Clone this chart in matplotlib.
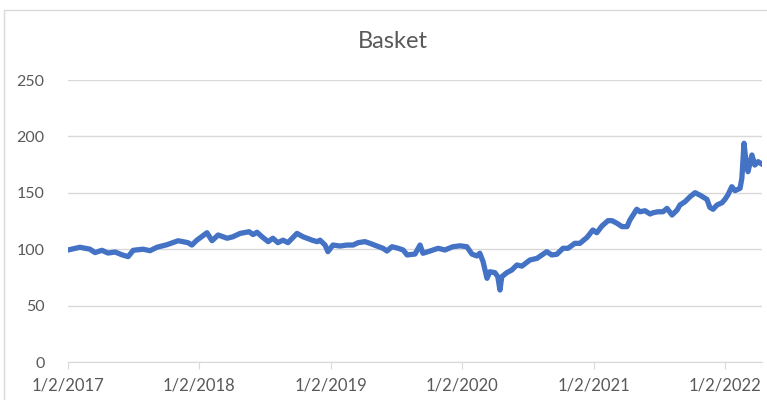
import matplotlib
matplotlib.use("Agg")
import matplotlib.pyplot as plt
import matplotlib.dates as mdates
import pandas as pd
from matplotlib.patches import Rectangle

# valores
fechas = [
    "2017-01-02", "2017-02-04", "2017-03-04", "2017-03-18", "2017-04-06", "2017-04-23",
    "2017-05-13", "2017-06-01", "2017-06-18", "2017-07-02", "2017-07-29", "2017-08-18",
    "2017-09-06", "2017-10-04", "2017-11-04", "2017-12-01", "2017-12-12", "2017-12-26",
    "2018-01-23", "2018-02-06", "2018-02-23", "2018-03-20", "2018-04-05", "2018-04-25",
    "2018-05-20", "2018-05-31", "2018-06-11", "2018-06-25", "2018-07-12", "2018-07-25",
    "2018-08-08", "2018-08-22", "2018-09-05", "2018-09-30", "2018-10-17", "2018-11-11",
    "2018-11-25", "2018-12-03", "2018-12-17", "2018-12-25", "2019-01-08", "2019-01-28",
    "2019-02-16", "2019-03-05", "2019-03-19", "2019-04-07", "2019-04-26", "2019-05-10",
    "2019-05-27", "2019-06-07", "2019-06-21", "2019-07-08", "2019-07-22", "2019-08-02",
    "2019-08-24", "2019-09-07", "2019-09-15", "2019-10-05", "2019-10-27", "2019-11-15",
    "2019-12-07", "2019-12-27", "2020-01-15", "2020-01-29", "2020-02-12", "2020-02-20",
    "2020-02-29", "2020-03-11", "2020-03-19", "2020-04-02", "2020-04-10", "2020-04-16",
    "2020-04-21", "2020-05-05", "2020-05-19", "2020-06-02", "2020-06-16", "2020-07-08",
    "2020-07-28", "2020-08-24", "2020-09-07", "2020-09-21", "2020-10-08", "2020-10-22",
    "2020-11-10", "2020-11-24", "2020-12-14", "2020-12-30", "2021-01-10", "2021-01-24",
    "2021-02-10", "2021-02-21", "2021-03-07", "2021-03-21", "2021-04-04", "2021-04-12",
    "2021-05-01", "2021-05-10", "2021-05-24", "2021-06-07", "2021-06-15", "2021-06-29",
    "2021-07-13", "2021-07-24", "2021-08-07", "2021-08-21", "2021-08-29", "2021-09-12",
    "2021-09-26", "2021-10-10", "2021-10-23", "2021-11-12", "2021-11-20", "2021-11-29",
    "2021-12-10", "2021-12-24", "2022-01-01", "2022-01-09", "2022-01-20", "2022-01-29",
    "2022-02-12", "2022-02-17", "2022-02-23", "2022-02-28", "2022-03-06", "2022-03-17",
    "2022-03-25", "2022-04-03", "2022-04-11",
]
valores = [
    99.3, 101.7, 100, 97, 99, 96.6,
    97.5, 95, 93.4, 99, 100, 98.7,
    101.7, 104, 107.5, 105.8, 103.7, 108,
    114.6, 107.5, 112.6, 109.7, 111, 114,
    115.5, 113, 115, 111, 106.7, 109.7,
    105.8, 108, 105.8, 114, 111, 108,
    106.7, 108, 103.7, 97.8, 103.7, 102.8,
    103.7, 103.7, 105.8, 106.7, 104.6, 102.8,
    100.8, 98.4, 102.2, 100.8, 99.3, 94.9,
    95.7, 103.7, 96.4, 98.4, 100.8, 99.3,
    102.2, 103, 102.2, 95.7, 94, 96.4,
    89, 74.2, 80, 79.2, 75.6, 63.8,
    75.6, 79.2, 81.6, 86, 85, 90.4,
    91.9, 97.8, 94.9, 95.5, 100.8, 100.8,
    105.2, 105.2, 110.5, 117, 114.6, 120.5,
    125.3, 125.3, 123, 120, 120, 125.9,
    135.4, 133.2, 134.1, 131.2, 132.3, 133.2,
    133.2, 136.2, 130.3, 134.7, 139.2, 142.1,
    146.5, 150.1, 148, 144.2, 137.1, 135.4,
    139.2, 141.2, 144.2, 148, 155.4, 151.9,
    154, 162.9, 193.9, 179, 168.7, 183.5,
    174.6, 177.6, 176,
]
etiquetas_x = ["2017-01-02", "2018-01-02", "2019-01-02", "2020-01-02", "2021-01-02", "2022-01-02"]
ticks_y = [0, 50, 100, 150, 200, 250]

gris_texto = "#595959"
gris_linea = "#D9D9D9"

plt.rcParams['font.family'] = ['Lato', 'DejaVu Sans']

fig = plt.figure(figsize=(7.67, 4.0), dpi=100)
ax = fig.add_axes([0.0887, 0.095, 0.9048, 0.705])

# marco del grafico (estilo excel)
fig.patches.append(Rectangle((4 / 767, -0.1), 2, 1.1 - 10 / 400, transform=fig.transFigure,
                             fill=False, edgecolor=gris_linea, linewidth=1))

x = pd.to_datetime(fechas)
ax.plot(x, valores, color="#4472C4", linewidth=3.8, solid_joinstyle="round")

ax.set_xlim(pd.Timestamp("2017-01-02"), pd.Timestamp("2022-04-14"))
ax.set_ylim(0, 250)
ax.set_yticks(ticks_y)
ax.set_xticks(pd.to_datetime(etiquetas_x))
ax.xaxis.set_major_formatter(mdates.DateFormatter("%-m/%-d/%Y"))

ax.grid(axis="y", color=gris_linea, linewidth=1)
ax.set_axisbelow(True)
for s in ["top", "right", "left"]:
    ax.spines[s].set_visible(False)
ax.spines["bottom"].set_color(gris_linea)
ax.tick_params(axis="y", length=0, pad=17, labelsize=11.5, labelcolor=gris_texto)
ax.tick_params(axis="x", length=5, color=gris_linea, pad=6, labelsize=12, labelcolor=gris_texto)

fig.text(0.512, 0.895, "Basket", ha="center", va="center", fontsize=17, color=gris_texto)

fig.savefig("out.png", dpi=100)
